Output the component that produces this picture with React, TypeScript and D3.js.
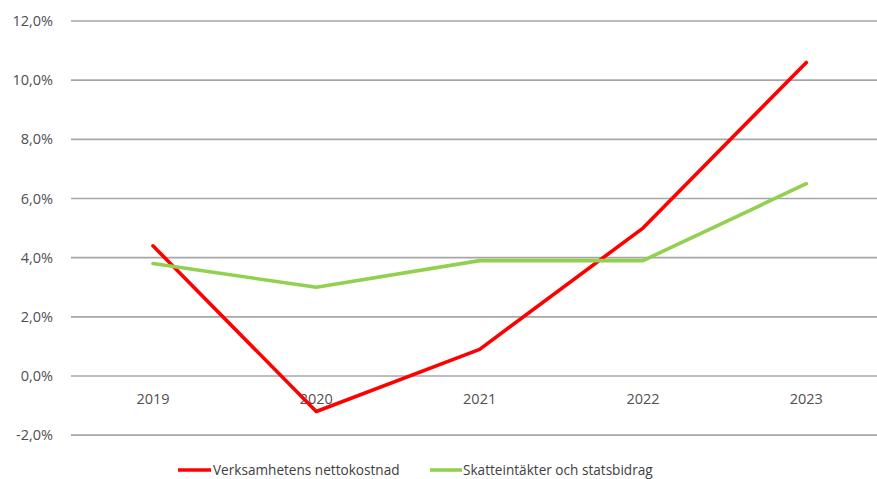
import React from "react";
import * as d3 from "d3";

const years = ["2019", "2020", "2021", "2022", "2023"];
const nettokostnad = [4.4, -1.2, 0.9, 5.0, 10.6];
const skatteintakter = [3.8, 3.0, 3.9, 3.9, 6.5];
const yTicks = [-2, 0, 2, 4, 6, 8, 10, 12];
const seriesNames = ["Verksamhetens nettokostnad", "Skatteintäkter och statsbidrag"];
const seriesColors = ["#FF0000", "#92D050"];

const W = 877;
const H = 479;
const FONT = "'Open Sans', sans-serif";

export default function App() {
  const x = d3.scaleBand<string>().domain(years).range([71.3, 888]);
  const y = d3.scaleLinear().domain([0, 12]).range([376, 21]);
  const cx = (d: string) => (x(d) as number) + x.bandwidth() / 2;
  const fmt = (v: number) => v.toFixed(1).replace(".", ",") + "%";

  const line = d3
    .line<number>()
    .x((_, i) => cx(years[i]))
    .y((v) => y(v));

  const series = [nettokostnad, skatteintakter];
  const legendPos = [
    { x1: 178, x2: 211, tx: 213 },
    { x1: 430, x2: 462, tx: 463 },
  ];

  return (
    <svg
      width={W}
      height={H}
      style={{ position: "absolute", left: 0, top: 0, background: "#fff" }}
      fontFamily={FONT}
    >
      {yTicks.map((t) => (
        <g key={t}>
          <line x1={71} x2={W} y1={y(t)} y2={y(t)} stroke="#A6A6A6" strokeWidth={1.6} />
          <text
            x={53}
            y={y(t)}
            dy="0.35em"
            textAnchor="end"
            fontSize={14.5}
            fill="#505050"
          >
            {fmt(t)}
          </text>
        </g>
      ))}
      {years.map((yr) => (
        <text
          key={yr}
          x={cx(yr)}
          y={y(0) + 23}
          dy="0.35em"
          textAnchor="middle"
          fontSize={14.5}
          fill="#505050"
        >
          {yr}
        </text>
      ))}
      {series.map((s, i) => (
        <path
          key={i}
          d={line(s) || ""}
          fill="none"
          stroke={seriesColors[i]}
          strokeWidth={3.6}
          strokeLinecap="round"
          strokeLinejoin="round"
        />
      ))}
      {seriesNames.map((n, i) => (
        <g key={n}>
          <line
            x1={legendPos[i].x1}
            x2={legendPos[i].x2}
            y1={470}
            y2={470}
            stroke={seriesColors[i]}
            strokeWidth={3.6}
          />
          <text
            x={legendPos[i].tx}
            y={470}
            dy="0.35em"
            fontSize={13.6}
            fill="#404040"
          >
            {n}
          </text>
        </g>
      ))}
    </svg>
  );
}
